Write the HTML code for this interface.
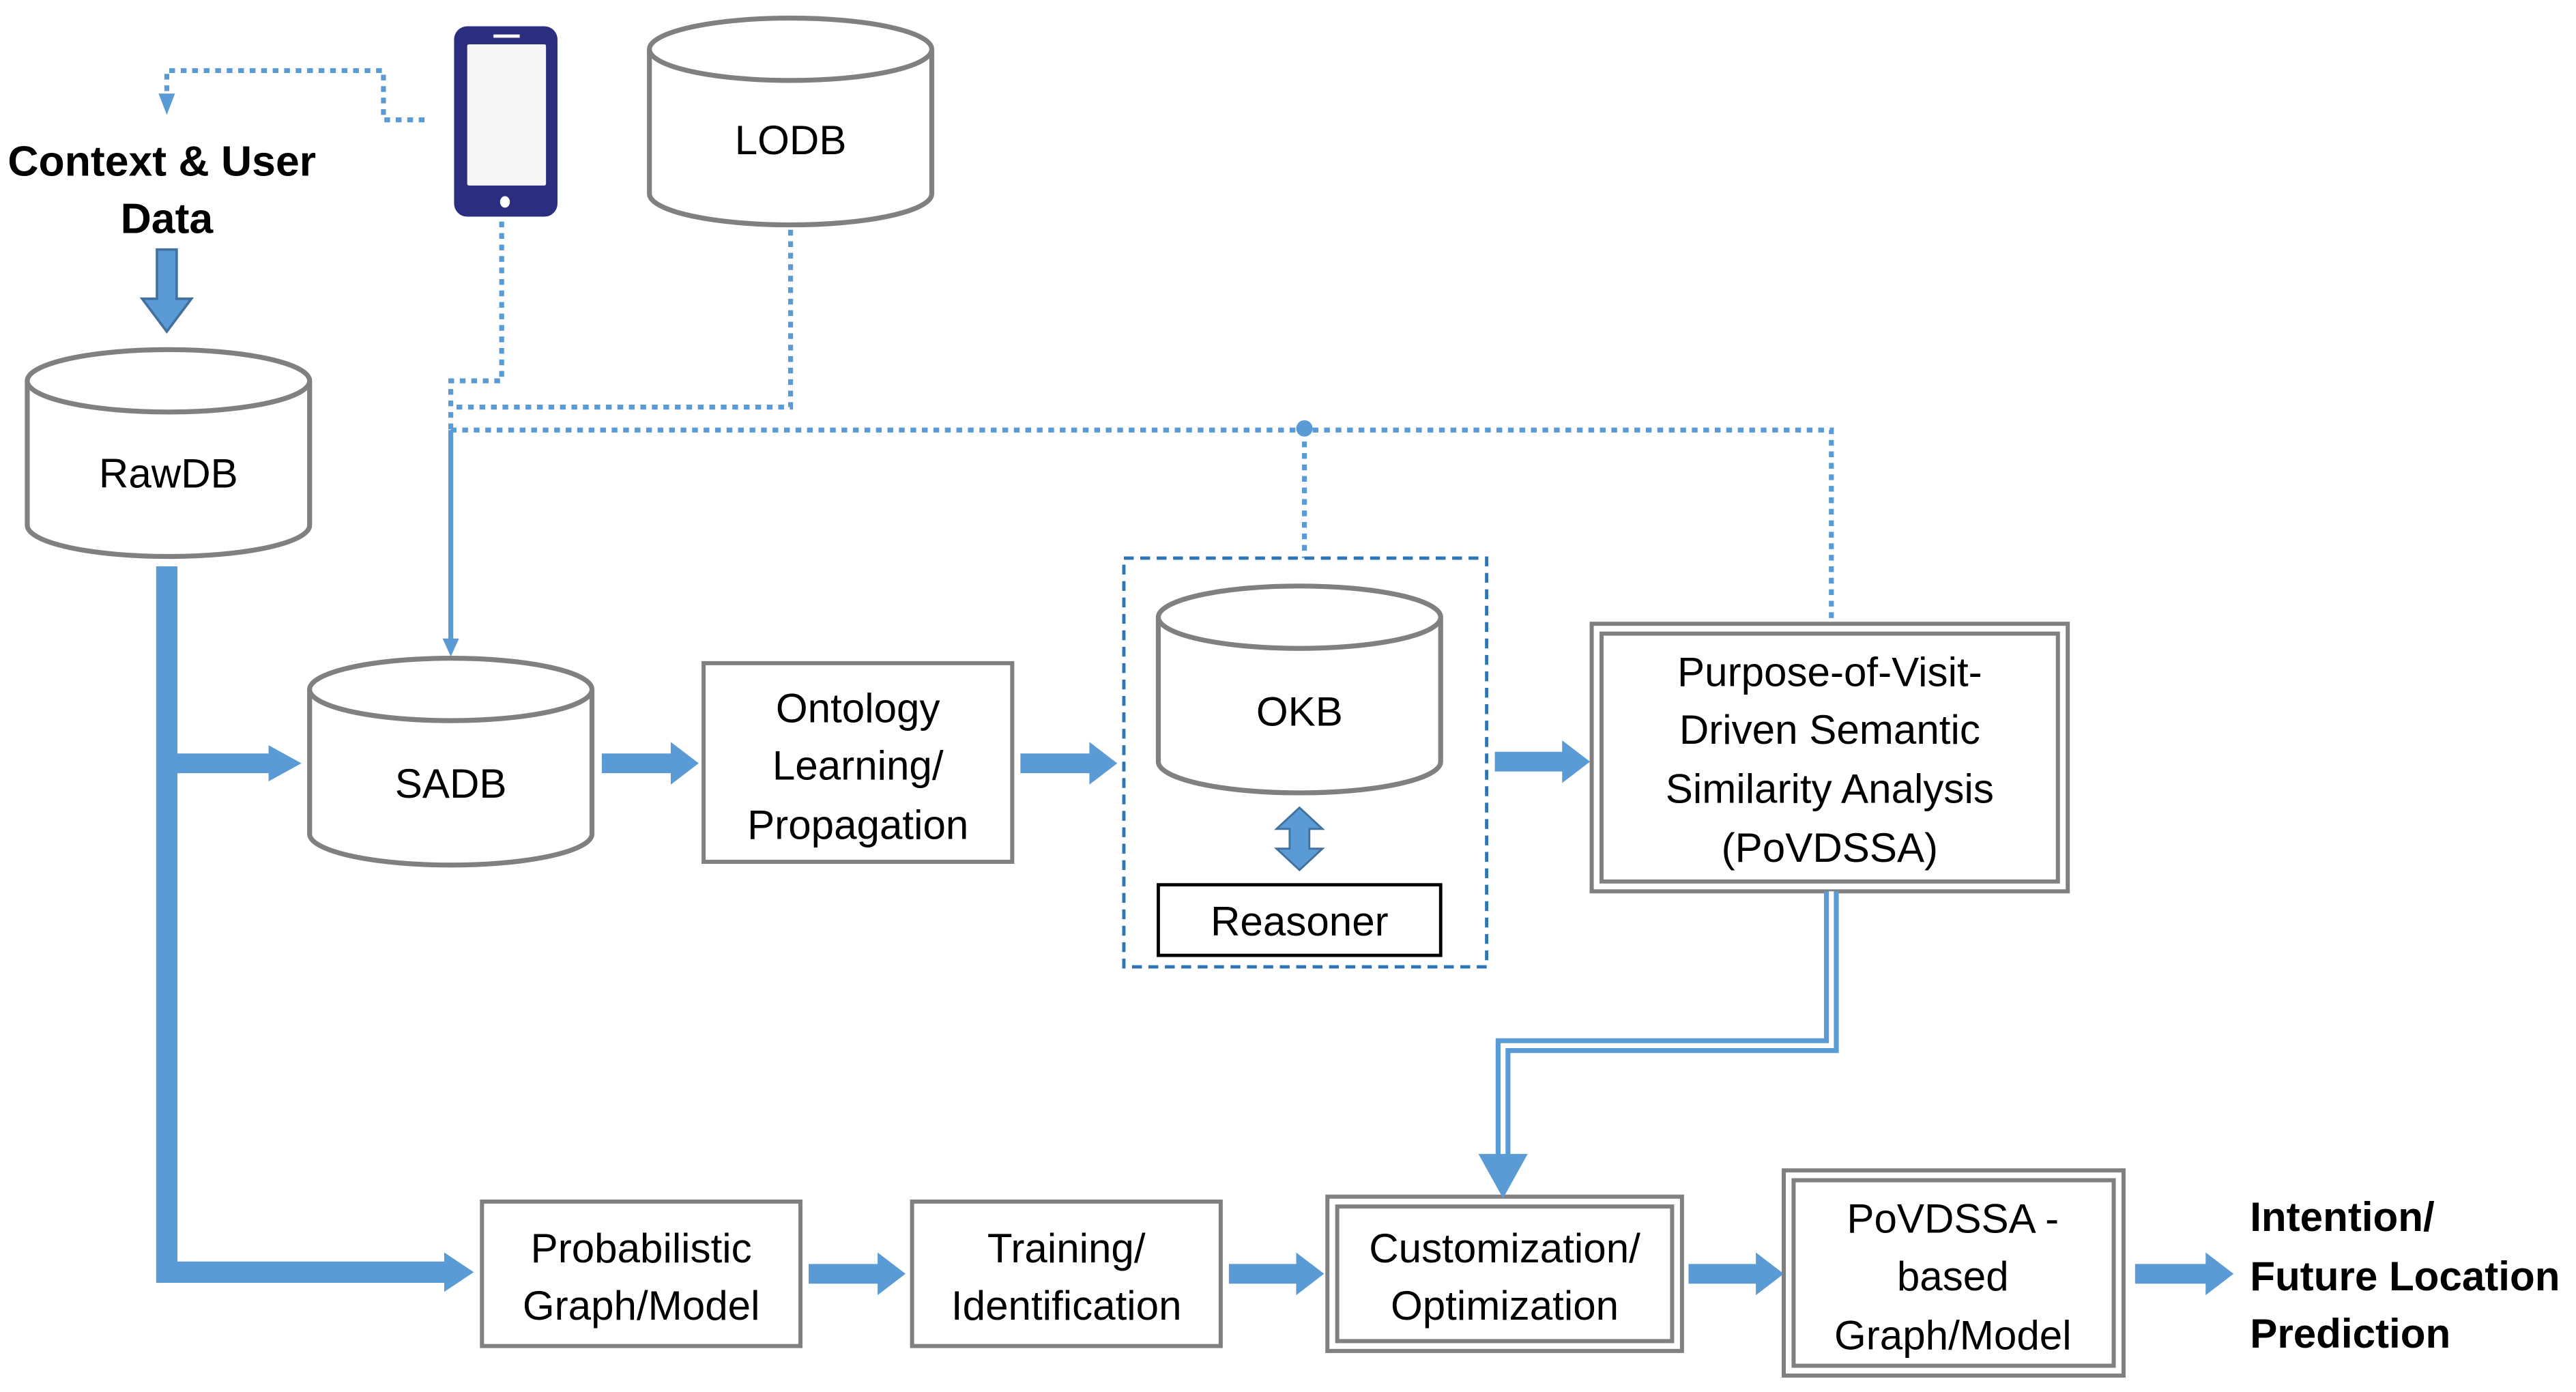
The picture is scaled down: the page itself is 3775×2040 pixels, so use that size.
<!DOCTYPE html>
<html><head><meta charset="utf-8"><style>
html,body{margin:0;padding:0;background:#fff;}
svg{display:block;}
text{font-family:"Liberation Sans",sans-serif;fill:#000;}
</style></head><body>
<svg width="3775" height="2040" viewBox="0 0 1568 848" xmlns="http://www.w3.org/2000/svg">
<rect width="1568" height="848" fill="#fff"/>
<g fill="none" stroke="#5b9bd5" stroke-width="3" stroke-dasharray="3.5 3.5">
  <path d="M258 73 H233 V43 H101 V58"/>
  <path d="M305 135 V232 H274 V262"/>
  <path d="M481 140 V248 H274"/>
  <path d="M274 262 H1115 V380"/>
  <path d="M794 262 V340"/>
</g>
<polygon points="96,57 106,57 101,70" fill="#5b9bd5"/>
<line x1="274" y1="262" x2="274" y2="390" stroke="#5b9bd5" stroke-width="3"/>
<polygon points="269,389 279,389 274,400" fill="#5b9bd5"/>
<circle cx="794" cy="261" r="5" fill="#5b9bd5"/>

<!-- text context -->
<text x="98" y="107" font-size="26" font-weight="bold" text-anchor="middle">Context &amp; User</text>
<text x="101" y="142" font-size="26" font-weight="bold" text-anchor="middle">Data</text>
<polygon points="95,152 107,152 107,182 116,182 101,202 86,182 95,182" fill="#5b9bd5" stroke="#41719c" stroke-width="1.5"/>

<!-- phone -->
<rect x="276" y="16" width="63" height="116" rx="8" fill="#2b2e7e"/>
<rect x="284" y="27" width="48" height="86" rx="1" fill="#f7f7f7"/>
<rect x="300" y="21" width="16" height="2" fill="#fff"/>
<ellipse cx="307" cy="123" rx="3" ry="3.5" fill="#fff"/>

<!-- cylinders -->
<g fill="#fff" stroke="#808080" stroke-width="3">
  <path d="M16 232 V320 A86 19 0 0 0 188 320 V232"/><ellipse cx="102" cy="232" rx="86" ry="19"/>
  <path d="M395 30 V118 A86 19 0 0 0 567 118 V30"/><ellipse cx="481" cy="30" rx="86" ry="19"/>
  <path d="M188 420 V508 A86 19 0 0 0 360 508 V420"/><ellipse cx="274" cy="420" rx="86" ry="19"/>
  <path d="M705 376 V464 A86 19 0 0 0 877 464 V376"/><ellipse cx="791" cy="376" rx="86" ry="19"/>
</g>
<text x="102" y="297" font-size="25" text-anchor="middle">RawDB</text>
<text x="481" y="94" font-size="25" text-anchor="middle">LODB</text>
<text x="274" y="486" font-size="25" text-anchor="middle">SADB</text>
<text x="791" y="442" font-size="25" text-anchor="middle">OKB</text>

<!-- thick blue flow -->
<path d="M101 345 V775 H272" fill="none" stroke="#5b9bd5" stroke-width="13"/>
<polygon points="270,763 288,775 270,787" fill="#5b9bd5"/>
<path d="M101 465 H165" stroke="#5b9bd5" stroke-width="12"/>
<polygon points="163,454 183,465 163,476" fill="#5b9bd5"/>
<g fill="#5b9bd5">
  <polygon points="366,459 408,459 408,452 425,465 408,478 408,471 366,471"/>
  <polygon points="621,459 663,459 663,452 680,465 663,478 663,471 621,471"/>
  <polygon points="910,458 951,458 951,451 968,464 951,477 951,470 910,470"/>
  <polygon points="492,770 534,770 534,763 551,776 534,789 534,782 492,782"/>
  <polygon points="748,770 789,770 789,763 806,776 789,789 789,782 748,782"/>
  <polygon points="1028,770 1069,770 1069,763 1086,776 1069,789 1069,782 1028,782"/>
  <polygon points="1300,770 1343,770 1343,763 1360,776 1343,789 1343,782 1300,782"/>
</g>
<!-- double arrow OKB-Reasoner -->
<polygon points="791,492 805,505 797,505 797,517 805,517 791,530 777,517 785,517 785,505 777,505" fill="#5b9bd5" stroke="#41719c" stroke-width="1.2"/>

<!-- boxes -->
<g fill="#fff" stroke="#808080" stroke-width="2.5">
  <rect x="428" y="404" width="188" height="121"/>
  <rect x="293" y="732" width="194" height="88"/>
  <rect x="555" y="732" width="188" height="88"/>
  <rect x="969" y="380" width="290" height="163"/><rect x="975" y="386" width="278" height="151"/>
  <rect x="808" y="729" width="216" height="94"/><rect x="814" y="735" width="204" height="82"/>
  <rect x="1086" y="713" width="207" height="125"/><rect x="1092" y="719" width="195" height="113"/>
</g>
<rect x="684" y="340" width="221" height="249" fill="none" stroke="#2e75b6" stroke-width="2" stroke-dasharray="6 4"/>
<rect x="705" y="539" width="172" height="43" fill="#fff" stroke="#000" stroke-width="2"/>
<text x="791" y="570" font-size="25" text-anchor="middle">Reasoner</text>

<!-- double line connector -->
<path d="M1115 543 V637 H915 V705" fill="none" stroke="#5b9bd5" stroke-width="9"/>
<path d="M1115 543 V637 H915 V705" fill="none" stroke="#fff" stroke-width="3"/>
<polygon points="900,703 930,703 915,730" fill="#5b9bd5"/>

<g font-size="25" text-anchor="middle">
  <text x="522" y="440">Ontology</text><text x="522" y="475">Learning/</text><text x="522" y="511">Propagation</text>
  <text x="1114" y="418">Purpose-of-Visit-</text><text x="1114" y="453">Driven Semantic</text><text x="1114" y="489">Similarity Analysis</text><text x="1114" y="525">(PoVDSSA)</text>
  <text x="390" y="769">Probabilistic</text><text x="390" y="804">Graph/Model</text>
  <text x="649" y="769">Training/</text><text x="649" y="804">Identification</text>
  <text x="916" y="769">Customization/</text><text x="916" y="804">Optimization</text>
  <text x="1189" y="751">PoVDSSA -</text><text x="1189" y="786">based</text><text x="1189" y="822">Graph/Model</text>
</g>
<g font-size="25" font-weight="bold">
  <text x="1370" y="750">Intention/</text><text x="1370" y="786">Future Location</text><text x="1370" y="821">Prediction</text>
</g>
</svg>
</body></html>
